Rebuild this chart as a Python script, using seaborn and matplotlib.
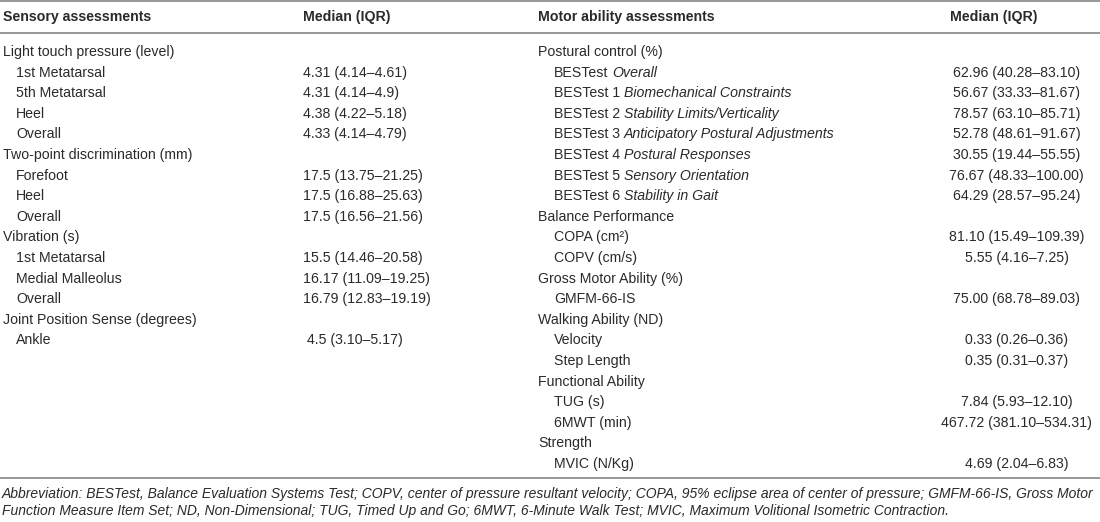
import pandas as pd
import matplotlib
matplotlib.use('Agg')
import matplotlib.pyplot as plt
import seaborn as sns

# Tabela: avaliações sensoriais (esquerda)
left_labels = ['Light touch pressure (level)', '1st Metatarsal', '5th Metatarsal', 'Heel', 'Overall',
               'Two-point discrimination (mm)', 'Forefoot', 'Heel', 'Overall',
               'Vibration (s)', '1st Metatarsal', 'Medial Malleolus', 'Overall',
               'Joint Position Sense (degrees)', 'Ankle']
left_median = ['', '4.31', '4.31', '4.38', '4.33', '', '17.5', '17.5', '17.5',
               '', '15.5', '16.17', '16.79', '', ' 4.5']
left_iqr = ['', '4.14–4.61', '4.14–4.9', '4.22–5.18', '4.14–4.79', '', '13.75–21.25', '16.88–25.63', '16.56–21.56',
            '', '14.46–20.58', '11.09–19.25', '12.83–19.19', '', '3.10–5.17']

# Tabela: avaliações motoras (direita)
right_labels = ['Postural control (%)', 'BESTest', 'BESTest 1', 'BESTest 2', 'BESTest 3', 'BESTest 4',
                'BESTest 5', 'BESTest 6', 'Balance Performance', 'COPA (cm²)', 'COPV (cm/s)',
                'Gross Motor Ability (%)', 'GMFM-66-IS', 'Walking Ability (ND)', 'Velocity', 'Step Length',
                'Functional Ability', 'TUG (s)', '6MWT (min)', 'Strength', 'MVIC (N/Kg)']
right_italic = ['', 'Overall', 'Biomechanical Constraints', 'Stability Limits/Verticality',
                'Anticipatory Postural Adjustments', 'Postural Responses', 'Sensory Orientation',
                'Stability in Gait', '', '', '', '', '', '', '', '', '', '', '', '', '']
right_median = ['', '62.96', '56.67', '78.57', '52.78', '30.55', '76.67', '64.29', '', '81.10', '5.55',
                '', '75.00', '', '0.33', '0.35', '', '7.84', '467.72', '', '4.69']
right_iqr = ['', '40.28–83.10', '33.33–81.67', '63.10–85.71', '48.61–91.67', '19.44–55.55', '48.33–100.00',
             '28.57–95.24', '', '15.49–109.39', '4.16–7.25', '', '68.78–89.03', '', '0.26–0.36', '0.31–0.37',
             '', '5.93–12.10', '381.10–534.31', '', '2.04–6.83']

headers = ['Sensory assessments', 'Median (IQR)', 'Motor ability assessments', 'Median (IQR)']

footnote = ['Abbreviation: BESTest, Balance Evaluation Systems Test; COPV, center of pressure resultant velocity; '
            'COPA, 95% eclipse area of center of pressure; GMFM-66-IS, Gross Motor',
            'Function Measure Item Set; ND, Non-Dimensional; TUG, Timed Up and Go; 6MWT, 6-Minute Walk Test; '
            'MVIC, Maximum Volitional Isometric Contraction.']

left = pd.DataFrame({'label': left_labels, 'median': left_median, 'iqr': left_iqr})
right = pd.DataFrame({'label': right_labels, 'italic': right_italic, 'median': right_median, 'iqr': right_iqr})

sns.set_theme(style='white')
plt.rcParams['font.family'] = ['Liberation Sans', 'DejaVu Sans']

cor = '#2a2a2a'
fs = 10.2

fig, ax = plt.subplots(figsize=(11, 5.22), dpi=100)
ax.set_position([0, 0, 1, 1])
ax.set_xlim(0, 1100)
ax.set_ylim(522, 0)
ax.axis('off')

y0, dy = 52, 20.6
yh = 17.5

# linhas horizontais
for y in [1, 33, 478]:
    ax.axhline(y, color='#7a7a7a', lw=1.1)

# cabeçalho
for x, h in zip([3, 303, 538, 950], headers):
    ax.text(x, yh, h, fontsize=fs, fontweight='bold', color=cor, va='center', ha='left')

# lado esquerdo
for i, row in left.iterrows():
    y = y0 + i * dy
    grupo = row['median'] == ''
    ax.text(3 if grupo else 16, y, row['label'], fontsize=fs, color=cor, va='center')
    if not grupo:
        ax.text(303, y, f"{row['median']} ({row['iqr']})", fontsize=fs, color=cor, va='center')

# lado direito
for i, row in right.iterrows():
    y = y0 + i * dy
    grupo = row['median'] == ''
    t = ax.text(538 if grupo else 554, y, row['label'], fontsize=fs, color=cor, va='center')
    if row['italic']:
        ax.annotate(row['italic'], xy=(1, 0.5), xycoords=t, xytext=(2.8, 0), textcoords='offset points',
                    fontsize=fs, color=cor, style='italic', va='center', ha='left')
    if not grupo:
        ax.text(1016.5, y, f"{row['median']} ({row['iqr']})", fontsize=fs, color=cor, va='center', ha='center')

# nota de rodapé
for k, linha in enumerate(footnote):
    ax.text(2, 494 + k * 17, linha, fontsize=10.0, color=cor, style='italic', va='center', ha='left')

fig.savefig('out.png', dpi=100)
